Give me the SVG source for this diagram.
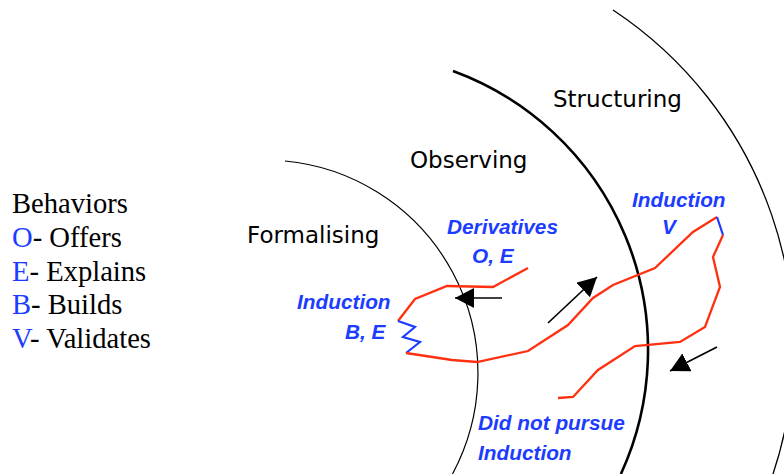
<svg xmlns="http://www.w3.org/2000/svg" width="784" height="474" viewBox="0 0 784 474">
<defs>
<style>
.arc{fill:none;stroke:#000}
.region{font-family:"DejaVu Sans","Verdana",sans-serif;font-size:23px;fill:#000}
.blue{font-family:"Liberation Sans",Arial,sans-serif;font-size:20.8px;font-weight:bold;font-style:italic;fill:#1c3cff}
.legend{font-family:"Liberation Serif","Times New Roman",serif;font-size:28.6px;fill:#000}
.lb{fill:#1c3cff}
.red{fill:none;stroke:#ff3010;stroke-width:2.3;stroke-linejoin:miter}
.bz{fill:none;stroke:#1c3cff;stroke-width:2.2}
.arr{stroke:#000;stroke-width:1.7;fill:none;marker-end:url(#head)}
</style>
<marker id="head" markerUnits="userSpaceOnUse" viewBox="0 0 19 20" refX="19" refY="10" markerWidth="19" markerHeight="20" orient="auto">
<path d="M0,0 L19,10 L0,20 z" fill="#000"/>
</marker>
</defs>
<rect width="784" height="474" fill="#fff"/>
<g id="arcs">
<path id="arc-formalising" class="arc" stroke-width="1.2" d="M285,161 A213,213 0 0 1 452.5,474"/>
<path id="arc-observing" class="arc" stroke-width="2.6" d="M453,71 A297,297 0 0 1 620.9,474"/>
<path id="arc-structuring" class="arc" stroke-width="1.3" d="M613,10 A403.5,403.5 0 0 1 773,474"/>
</g>
<g id="label-formalising"><text class="region" x="247" y="243">Formalising</text></g>
<g id="label-observing"><text class="region" x="410" y="168">Observing</text></g>
<g id="label-structuring"><text class="region" x="553" y="107">Structuring</text></g>
<g id="legend">
<text class="legend" x="12" y="213">Behaviors</text>
<text class="legend" x="12" y="247"><tspan class="lb">O</tspan>- Offers</text>
<text class="legend" x="12" y="280.5"><tspan class="lb">E</tspan>- Explains</text>
<text class="legend" x="12" y="314"><tspan class="lb">B</tspan>- Builds</text>
<text class="legend" x="12" y="347.5"><tspan class="lb">V</tspan>- Validates</text>
</g>
<g id="label-derivatives">
<text class="blue" x="447" y="234">Derivatives</text>
<text class="blue" x="472" y="263">O, E</text>
</g>
<g id="label-induction-be">
<text class="blue" x="297" y="309">Induction</text>
<text class="blue" x="345" y="339">B, E</text>
</g>
<g id="label-induction-v">
<text class="blue" x="632" y="207">Induction</text>
<text class="blue" x="662" y="234">V</text>
</g>
<g id="label-not-pursue">
<text class="blue" x="478" y="430">Did not pursue</text>
<text class="blue" x="478" y="460">Induction</text>
</g>
<g id="path">
<polyline class="red" points="528,268 493,287 447,286 415,299 398,321"/>
<polyline class="bz" points="398,321 415,327 403,337 420,342 406,353"/>
<polyline class="red" points="406,353 452,360 477,362 528,351 568,325 593,298 613,285 655,268 693,232 717,217"/>
<polyline class="bz" points="717,217 723,235"/>
<polyline class="red" points="723,235 713,257 720,287 705,327 680,342 635,346 598,370 573,397 558,398"/>
</g>
<g id="connectors">
<line class="arr" x1="502" y1="298" x2="455" y2="298"/>
<line class="arr" x1="548" y1="323" x2="597" y2="277"/>
<line class="arr" x1="717" y1="347" x2="670" y2="371"/>
</g>
</svg>
